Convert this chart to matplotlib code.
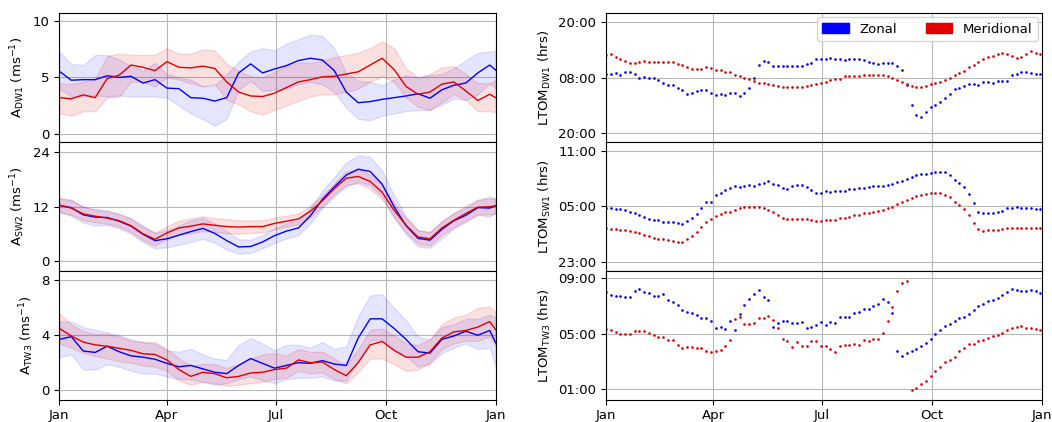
#Tidal amplitudes (left) and phases (right) through the year
#zonal = blue, meridional = red

import matplotlib.pyplot as plt
import numpy as np
from matplotlib.patches import Patch
from matplotlib.ticker import FuncFormatter

#amplitude curves, sampled every 10 days (plus day 365)
amp_days = np.r_[np.arange(0, 361, 10), 365]

dw1_zon = [5.55, 4.75, 4.8, 4.8, 5.15, 5.0, 5.1, 4.5, 4.8, 4.05, 4.0, 3.2, 3.15, 2.9, 3.2, 5.4, 6.2, 5.4, 5.75, 6.05,
           6.5, 6.7, 6.55, 5.6, 3.7, 2.75, 2.85, 3.05, 3.2, 3.35, 3.55, 3.15, 3.9, 4.3, 4.5, 5.4, 6.1, 5.65]
dw1_zon_hi = [7.3, 6.2, 6.1, 7.0, 7.0, 6.6, 6.0, 5.6, 6.3, 5.3, 5.0, 4.8, 4.2, 4.3, 5.3, 6.4, 7.3, 7.6, 7.4, 8.0,
              8.4, 8.8, 8.7, 7.6, 5.4, 4.7, 4.6, 4.3, 4.8, 5.2, 5.0, 5.2, 5.3, 5.8, 6.5, 7.2, 7.3, 7.4]
dw1_zon_lo = [4.0, 3.3, 3.3, 3.4, 3.3, 3.4, 3.3, 3.3, 3.3, 3.2, 2.5, 1.8, 1.3, 0.7, 1.3, 3.9, 4.7, 3.8, 3.9, 4.0,
              4.4, 4.6, 4.4, 3.7, 2.3, 1.3, 1.2, 1.6, 1.8, 2.0, 2.1, 2.1, 2.6, 3.1, 3.0, 3.5, 4.5, 4.0]
dw1_mer = [3.2, 3.1, 3.45, 3.2, 4.9, 5.2, 6.1, 5.9, 5.6, 6.4, 5.9, 5.85, 6.0, 5.8, 4.6, 3.7, 3.35, 3.3, 3.6, 4.1,
           4.6, 4.8, 5.05, 5.1, 5.3, 5.5, 6.1, 6.7, 5.7, 4.2, 3.5, 3.7, 4.4, 4.6, 3.8, 2.95, 3.5, 3.2]
dw1_mer_hi = [4.5, 4.4, 4.6, 4.9, 6.9, 7.1, 7.0, 7.0, 7.0, 7.6, 7.1, 7.1, 7.5, 7.4, 6.2, 5.6, 5.1, 5.0, 5.5, 6.0,
              6.3, 6.3, 6.5, 6.8, 7.0, 7.2, 7.6, 8.2, 7.6, 5.8, 5.0, 5.3, 5.9, 6.0, 5.3, 4.5, 4.5, 4.8]
dw1_mer_lo = [1.8, 1.6, 2.0, 2.0, 3.2, 3.3, 4.6, 4.6, 4.2, 5.0, 4.8, 4.5, 4.2, 4.4, 3.0, 2.6, 2.0, 1.7, 2.1, 2.5,
              2.9, 3.3, 3.5, 3.5, 3.7, 4.0, 4.6, 5.1, 4.6, 3.2, 2.4, 2.1, 2.8, 3.5, 3.0, 2.0, 2.0, 1.9]

sw2_zon = [12.3, 11.8, 10.2, 9.7, 9.6, 8.8, 7.7, 5.9, 4.5, 4.9, 5.7, 6.5, 7.2, 6.1, 4.5, 3.1, 3.2, 4.2, 5.6, 6.6,
           7.3, 10.0, 13.6, 16.4, 19.0, 20.3, 19.8, 17.0, 12.0, 7.8, 5.0, 4.6, 7.0, 8.9, 10.1, 11.8, 11.7, 12.2]
sw2_zon_hi = [13.8, 13.5, 12.0, 11.5, 11.2, 10.5, 9.5, 7.8, 6.2, 6.8, 7.8, 9.0, 9.5, 8.3, 6.6, 4.8, 4.7, 5.7, 7.2, 8.3,
              9.0, 11.8, 15.5, 18.6, 21.8, 23.4, 23.0, 20.0, 14.5, 9.8, 6.8, 6.4, 8.8, 10.6, 11.8, 13.4, 14.3, 13.5]
sw2_zon_lo = [10.8, 10.0, 8.5, 7.8, 8.0, 7.2, 6.0, 4.2, 2.8, 3.0, 3.6, 4.2, 4.9, 4.0, 2.5, 1.6, 1.8, 2.8, 4.0, 5.0,
              5.7, 8.3, 11.7, 14.3, 16.5, 17.5, 16.8, 14.2, 9.6, 5.9, 3.2, 2.9, 5.0, 7.2, 8.6, 10.2, 9.8, 10.6]
sw2_mer = [12.3, 11.7, 10.4, 9.9, 9.5, 8.9, 7.8, 6.0, 4.8, 6.2, 7.3, 7.7, 8.2, 7.9, 7.6, 7.5, 7.6, 7.6, 8.3, 8.8,
           9.3, 11.0, 13.3, 16.0, 18.3, 18.7, 17.6, 15.2, 11.2, 7.9, 5.3, 4.9, 7.3, 9.0, 10.5, 11.9, 12.0, 12.2]
sw2_mer_hi = [14.0, 13.5, 12.0, 11.3, 11.0, 10.3, 9.3, 7.5, 6.3, 7.7, 8.9, 9.4, 9.9, 9.5, 9.2, 9.0, 9.0, 9.0, 9.6, 10.0,
              10.5, 12.3, 14.5, 17.2, 19.8, 20.2, 19.2, 16.8, 12.8, 9.5, 6.8, 6.4, 8.8, 10.6, 12.2, 13.6, 13.8, 14.0]
sw2_mer_lo = [10.8, 10.2, 9.0, 8.6, 8.2, 7.6, 6.4, 4.6, 3.4, 4.8, 5.9, 6.1, 6.6, 6.4, 6.1, 6.0, 6.2, 6.3, 7.0, 7.6,
              8.1, 9.7, 12.0, 14.8, 16.8, 17.2, 16.0, 13.6, 9.6, 6.3, 3.8, 3.4, 5.8, 7.5, 8.9, 10.3, 10.3, 10.5]

tw3_zon = [3.7, 3.9, 2.85, 2.75, 3.2, 2.8, 2.5, 2.4, 2.25, 1.95, 1.7, 1.8, 1.55, 1.3, 1.2, 1.8, 2.3, 1.95, 1.6, 1.8,
           2.0, 1.95, 2.15, 1.9, 1.8, 3.8, 5.2, 5.2, 4.5, 3.7, 2.8, 2.7, 3.7, 3.95, 4.3, 4.0, 4.35, 3.45]
tw3_zon_hi = [5.0, 5.0, 4.6, 4.4, 4.2, 4.0, 3.7, 3.5, 3.4, 2.9, 2.8, 3.0, 2.6, 2.3, 2.2, 3.3, 3.8, 3.4, 2.9, 3.3,
              3.3, 3.1, 3.5, 3.0, 3.2, 5.4, 6.9, 7.0, 6.0, 5.1, 3.9, 3.7, 4.6, 4.8, 5.2, 5.2, 5.5, 5.3]
tw3_zon_lo = [2.4, 2.6, 1.5, 1.5, 1.9, 1.7, 1.4, 1.2, 1.2, 1.0, 0.8, 0.8, 0.6, 0.4, 0.5, 0.8, 1.0, 0.7, 0.5, 0.8,
              0.9, 0.9, 1.0, 0.7, 0.7, 2.2, 3.6, 3.7, 3.0, 2.5, 1.7, 1.9, 2.7, 3.1, 3.4, 3.0, 3.1, 1.7]
tw3_mer = [4.5, 3.95, 3.5, 3.3, 3.2, 3.05, 2.9, 2.65, 2.6, 2.2, 1.5, 1.0, 1.3, 1.2, 0.9, 1.0, 1.25, 1.3, 1.5, 1.6,
           2.2, 2.0, 2.05, 1.5, 1.05, 2.0, 3.3, 3.55, 2.9, 2.4, 2.4, 2.8, 3.8, 4.25, 4.35, 4.6, 5.0, 4.4]
tw3_mer_hi = [5.6, 4.8, 4.3, 4.1, 4.1, 3.9, 3.6, 3.5, 3.5, 3.0, 2.3, 1.8, 1.9, 1.9, 1.6, 1.9, 2.3, 2.6, 2.7, 2.5,
              3.0, 2.8, 2.8, 2.3, 1.8, 3.0, 4.4, 4.5, 4.0, 3.4, 3.3, 3.7, 4.8, 5.3, 5.5, 6.0, 6.1, 5.7]
tw3_mer_lo = [3.4, 3.1, 2.7, 2.5, 2.3, 2.1, 2.0, 1.8, 1.7, 1.4, 0.7, 0.4, 0.6, 0.5, 0.3, 0.4, 0.5, 0.6, 0.8, 0.9,
              1.4, 1.2, 1.3, 0.8, 0.5, 1.3, 2.3, 2.3, 1.9, 1.4, 1.5, 2.0, 3.0, 3.4, 3.6, 3.6, 3.9, 3.2]

#phases (local time of max, hours), every 4 days
ph_days = np.arange(0, 365, 4)

dw1_ph_zon = [8.8, 8.85, 9.1, 8.65, 9.3, 9.2, 8.8, 8.0, 8.2, 7.95, 7.85, 7.55, 6.8, 6.5, 6.5, 5.7, 5.4, 4.55, 4.75, 5.05,
              5.25, 5.25, 4.75, 4.25, 4.4, 4.35, 4.75, 4.75, 4.1, 4.6, 5.7, 8.0, 10.65, 11.65, 11.3, 10.6, 10.6, 10.6, 10.5, 10.5,
              10.6, 10.6, 10.85, 11.25, 11.95, 11.95,
              12.1, 12.3, 11.95, 12.0, 11.9, 11.95, 11.95, 11.95, 11.75, 11.3, 11.1, 11.0, 11.25, 11.25, 11.1, 10.5, 9.7, 6.5, 2.2, 0.05,
              -0.5, 0.65, 1.75, 2.2, 2.85, 3.55, 4.55, 5.65, 5.85, 6.2, 6.65, 6.65, 6.5, 7.05, 7.15, 6.85, 7.3, 7.3, 7.35, 8.5,
              8.7, 9.15, 9.3, 9.1, 8.85, 8.85]
dw1_ph_mer = [13.0, 13.2, 12.45, 12.1, 11.6, 11.2, 11.2, 11.45, 11.6, 11.45, 11.4, 11.4, 11.4, 11.45, 11.3, 11.0, 10.7, 10.3, 9.95, 9.9,
              9.95, 10.2, 10.15, 9.7, 9.6, 9.3, 9.15, 8.65, 8.3, 7.9, 7.65, 7.3, 6.9, 6.85, 6.7, 6.35, 6.15, 5.9, 5.9, 5.9,
              6.0, 6.0, 6.2, 6.4, 6.7, 6.9,
              7.0, 7.5, 7.7, 7.65, 8.45, 8.3, 8.3, 8.45, 8.65, 8.6, 8.6, 8.6, 8.5, 8.35, 8.0, 7.55, 7.15, 6.65, 6.2, 6.0,
              6.0, 6.3, 6.55, 6.85, 7.0, 7.5, 7.85, 8.6, 9.0, 9.35, 10.4, 10.7, 11.45, 11.95, 12.45, 12.75, 13.05, 13.4, 13.2, 12.7,
              12.3, 12.55, 13.1, 13.75, 13.25, 13.1]

sw1_ph_zon = [4.75, 4.75, 4.7, 4.68, 4.6, 4.42, 4.28, 4.06, 3.88, 3.63, 3.49, 3.49, 3.34, 3.27, 3.27, 3.13, 3.05, 3.38, 3.67, 4.14,
              4.82, 5.4, 5.5, 6.19, 6.4, 6.77, 6.98, 7.23, 7.09, 7.23, 7.34, 7.2, 7.45, 7.52, 7.67, 7.41, 7.27, 6.95, 6.84, 7.13,
              7.34, 7.3, 7.05, 6.73, 6.44, 6.44,
              6.59, 6.55, 6.59, 6.62, 6.62, 6.84, 6.91, 6.95, 6.98, 7.02, 7.13, 7.2, 7.23, 7.34, 7.41, 7.59, 7.7, 7.95, 8.17, 8.35,
              8.46, 8.53, 8.6, 8.68, 8.71, 8.68, 8.39, 7.85, 7.52, 7.09, 6.3, 5.32, 4.39, 4.21, 4.21, 4.24, 4.42, 4.53, 4.75, 4.82,
              4.86, 4.82, 4.78, 4.78, 4.64, 4.71]
sw1_ph_mer = [2.6, 2.55, 2.5, 2.45, 2.4, 2.3, 2.2, 2.1, 1.9, 1.8, 1.6, 1.5, 1.4, 1.35, 1.2, 1.1, 1.07, 1.43, 1.74, 2.17,
              2.73, 3.34, 3.63, 3.95, 4.17, 4.32, 4.42, 4.6, 4.75, 4.89, 4.93, 4.93, 4.86, 4.75, 4.57, 4.32, 4.06, 3.77, 3.63, 3.59,
              3.59, 3.59, 3.56, 3.49, 3.41, 3.41,
              3.45, 3.52, 3.52, 3.67, 3.74, 3.88, 3.99, 4.06, 4.21, 4.28, 4.39, 4.5, 4.6, 4.78, 4.96, 5.22, 5.43, 5.68, 5.9, 6.08,
              6.23, 6.3, 6.37, 6.37, 6.41, 6.23, 5.97, 5.47, 5.11, 4.71, 4.03, 3.23, 2.55, 2.33, 2.44, 2.41, 2.44, 2.52, 2.62, 2.66,
              2.62, 2.62, 2.59, 2.62, 2.59, 2.59]

tw3_ph_zon = [7.96, 7.8, 7.72, 7.7, 7.65, 7.63, 8.06, 8.2, 8.01, 7.89, 7.7, 7.72, 7.82, 7.39, 7.27, 7.05, 6.67, 6.53, 6.51, 6.31,
              6.1, 6.1, 5.93, 5.38, 5.48, 5.36, 5.91, 5.26, 6.39, 7.05, 7.49, 7.82, 8.13, 7.65, 7.39, 5.48, 5.79, 5.88, 5.91, 5.79,
              5.79, 5.81, 5.38, 5.48, 5.62, 5.86,
              5.6, 5.81, 5.74, 6.17, 6.22, 6.17, 6.46, 6.53, 6.77, 6.79, 6.98, 7.13, 7.46, 7.29, 6.51, 3.76, 3.4, 3.57, 3.73, 3.88,
              4.07, 4.31, 4.64, 4.98, 5.22, 5.53, 5.65, 5.88, 6.1, 6.22, 6.43, 6.67, 6.96, 7.13, 7.32, 7.41, 7.58, 7.8, 8.01, 8.2,
              8.15, 8.08, 8.08, 8.15, 8.08, 7.92]
tw3_ph_mer = [5.31, 5.24, 5.1, 5.0, 4.95, 4.98, 5.17, 5.19, 5.17, 5.07, 4.93, 4.76, 4.76, 4.57, 4.57, 4.19, 3.95, 4.0, 4.02, 3.95,
              3.97, 3.78, 3.64, 3.73, 3.81, 4.14, 4.55, 6.03, 6.22, 5.67, 5.67, 5.74, 6.1, 6.1, 6.24, 6.0, 5.38, 4.62, 4.45, 4.0,
              4.4, 4.14, 4.14, 4.45, 4.43, 4.14,
              4.14, 3.88, 3.71, 4.07, 4.16, 4.21, 4.26, 4.21, 4.57, 4.5, 4.62, 4.62, 5.07, 5.91, 6.91, 8.06, 8.61, 8.75, 0.91, 1.08,
              1.34, 1.61, 1.92, 2.28, 2.59, 2.94, 3.09, 3.28, 3.76, 3.97, 4.28, 4.28, 4.45, 4.57, 4.69, 4.83, 4.93, 5.02, 5.24, 5.41,
              5.5, 5.53, 5.43, 5.43, 5.33, 5.29]

month_locs = [0, 90, 181, 273, 365]
month_labels = ['Jan', 'Apr', 'Jul', 'Oct', 'Jan']

zcol = '#0000ff'
mcol = '#e00000'
plt.rcParams['font.size'] = 9.5

fig = plt.figure(figsize=(10.52, 4.22), dpi=100)

amp_panels = [
    ('DW1', dw1_zon, dw1_zon_lo, dw1_zon_hi, dw1_mer, dw1_mer_lo, dw1_mer_hi, [0, 5, 10], (-0.75, 10.7)),
    ('SW2', sw2_zon, sw2_zon_lo, sw2_zon_hi, sw2_mer, sw2_mer_lo, sw2_mer_hi, [0, 12, 24], (-2.2, 26.3)),
    ('TW3', tw3_zon, tw3_zon_lo, tw3_zon_hi, tw3_mer, tw3_mer_lo, tw3_mer_hi, [0, 4, 8], (-0.7, 8.7)),
]
ph_panels = [
    ('DW1', dw1_ph_zon, dw1_ph_mer, [-4, 8, 20], (-5.9, 21.9)),
    ('SW1', sw1_ph_zon, sw1_ph_mer, [-1, 5, 11], (-2.0, 11.93)),
    ('TW3', tw3_ph_zon, tw3_ph_mer, [1, 5, 9], (0.25, 9.5)),
]

bottoms = [0.6633, 0.3581, 0.0529]
h = 0.3052

def hour_fmt(v, pos):
    return '%02d:00' % (int(round(v)) % 24)

for i, (name, z, zlo, zhi, m, mlo, mhi, yt, yl) in enumerate(amp_panels):
    ax = fig.add_axes([0.0564, bottoms[i], 0.4148, h])
    ax.fill_between(amp_days, zlo, zhi, color=zcol, alpha=0.1)
    ax.fill_between(amp_days, mlo, mhi, color=mcol, alpha=0.12)
    ax.plot(amp_days, z, color=zcol, lw=1.0)
    ax.plot(amp_days, m, color=mcol, lw=1.0)
    ax.set_xlim(0, 365)
    ax.set_ylim(yl)
    ax.set_yticks(yt)
    ax.set_xticks(month_locs)
    ax.grid(True, color='#b8b8b8', lw=0.8)
    ax.set_axisbelow(True)
    ax.set_ylabel(r'A$_{\mathrm{%s}}$ (ms$^{-1}$)' % name)
    if i < 2:
        ax.set_xticklabels([])
    else:
        ax.set_xticklabels(month_labels)

for i, (name, z, m, yt, yl) in enumerate(ph_panels):
    ax = fig.add_axes([0.576, bottoms[i], 0.4142, h])
    ax.plot(ph_days, z, 'o', color=zcol, ms=1.9, mew=0)
    ax.plot(ph_days, m, 'o', color=mcol, ms=1.9, mew=0)
    ax.set_xlim(0, 365)
    ax.set_ylim(yl)
    ax.set_yticks(yt)
    ax.yaxis.set_major_formatter(FuncFormatter(hour_fmt))
    ax.set_xticks(month_locs)
    ax.grid(True, color='#b8b8b8', lw=0.8)
    ax.set_axisbelow(True)
    ax.set_ylabel(r'LTOM$_{\mathrm{%s}}$ (hrs)' % name)
    if i < 2:
        ax.set_xticklabels([])
    else:
        ax.set_xticklabels(month_labels)
    if i == 0:
        handles = [Patch(color=zcol, label='Zonal'), Patch(color=mcol, label='Meridional')]
        ax.legend(handles=handles, loc='upper right', ncol=2, fontsize=9.5,
                  borderaxespad=0.3, columnspacing=2.2)

fig.savefig('out.png', dpi=100)
